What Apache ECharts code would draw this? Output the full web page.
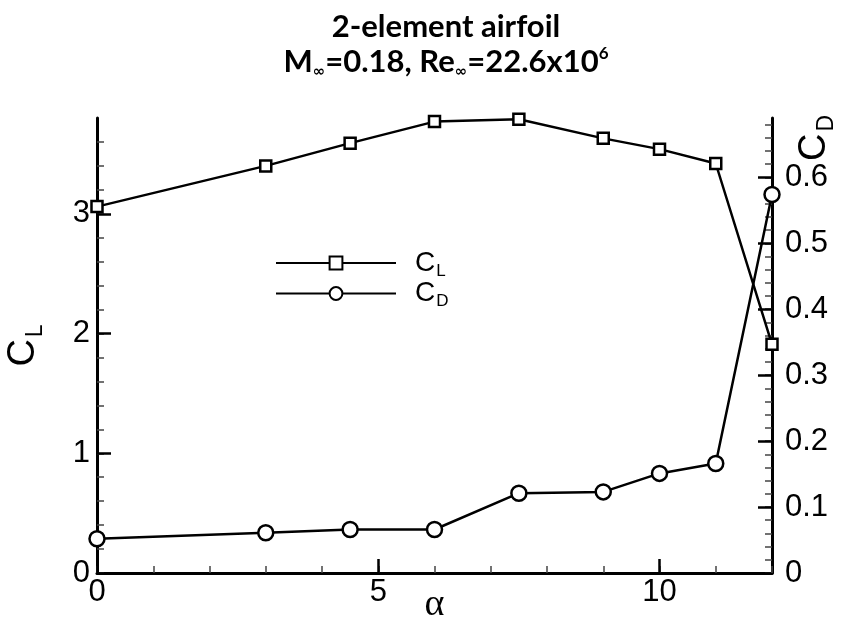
<!DOCTYPE html>
<html>
<head>
<meta charset="utf-8">
<title>2-element airfoil</title>
<script src="https://cdn.jsdelivr.net/npm/echarts@6/dist/echarts.min.js"></script>
<style>
  html, body { margin: 0; padding: 0; background: #fff; }
  #chart { width: 844px; height: 628px; }
</style>
</head>
<body>
<div id="chart"></div>
<script>
// angle of attack (deg)
const alpha = [0, 3, 4.5, 6, 7.5, 9, 10, 11, 12];
// lift and drag coefficients
const cl = [3.06, 3.40, 3.59, 3.77, 3.79, 3.63, 3.54, 3.42, 1.91];
const cd = [0.052, 0.061, 0.066, 0.066, 0.121, 0.123, 0.151, 0.166, 0.574];

// tick marks
const alphaTicks = [0, 5, 10];
const alphaMinor = [0, 1, 2, 3, 4, 5, 6, 7, 8, 9, 10, 11, 12];
const clTicks = [0, 1, 2, 3];
const clMinor = [0, 0.2, 0.4, 0.6, 0.8, 1, 1.2, 1.4, 1.6, 1.8, 2, 2.2, 2.4, 2.6, 2.8, 3, 3.2, 3.4, 3.6];
const cdTicks = [0, 0.1, 0.2, 0.3, 0.4, 0.5, 0.6];
const cdMinor = [0, 0.02, 0.04, 0.06, 0.08, 0.1, 0.12, 0.14, 0.16, 0.18, 0.2, 0.22, 0.24, 0.26, 0.28,
    0.3, 0.32, 0.34, 0.36, 0.38, 0.4, 0.42, 0.44, 0.46, 0.48, 0.5, 0.52, 0.54, 0.56, 0.58, 0.6, 0.62,
    0.64, 0.66, 0.68];

const chart = echarts.init(document.getElementById('chart'));

const labelFont = 'Liberation Sans';
const black = '#000';

// main axis (line + minor ticks + labels)
function mainAxis(extra) {
    return Object.assign({
        type: 'value',
        axisLine: { show: true, onZero: false, lineStyle: { color: black, width: 3 } },
        splitLine: { show: false }
    }, extra);
}

function minorTicks(values) {
    return { show: true, inside: true, length: 7, customValues: values, lineStyle: { color: '#444', width: 1.5 } };
}

// overlay axis that only draws the long major ticks
function majorTicks(extra, values) {
    return Object.assign({
        type: 'value',
        axisLine: { show: false, onZero: false },
        axisTick: { show: true, inside: true, length: 14, customValues: values, lineStyle: { color: black, width: 2.5 } },
        axisLabel: { show: false },
        splitLine: { show: false }
    }, extra);
}

const sub = { fontFamily: labelFont, fontSize: 23, color: black, padding: [24, 0, 0, 2] };

const option = {
    animation: false,
    backgroundColor: '#fff',
    title: {
        left: 446,
        top: 10,
        padding: 0,
        textAlign: 'center',
        text: '{t|2-element airfoil}\n{t|M}{s|∞}{t|=0.18, Re}{s|∞}{t|=22.6x10}{p|6}',
        textStyle: {
            rich: {
                t: { fontFamily: 'Lato', fontWeight: 'bold', fontSize: 31, color: black, lineHeight: 33 },
                s: { fontFamily: 'DejaVu Sans', fontSize: 15, color: black, padding: [22, 0, 0, 0] },
                p: { fontFamily: 'Lato', fontWeight: 'bold', fontSize: 17, color: black, padding: [0, 0, 16, 0] }
            }
        }
    },
    legend: {
        left: 275,
        top: 249,
        padding: 0,
        orient: 'vertical',
        itemWidth: 120,
        itemHeight: 16,
        itemGap: 0,
        data: ['CL', 'CD'],
        formatter: function (name) {
            return '{c|C}{s|' + name.slice(1) + '}';
        },
        textStyle: {
            rich: {
                c: { fontFamily: labelFont, fontSize: 28, color: black, padding: [0, 0, 0, 14] },
                s: { fontFamily: labelFont, fontSize: 17, color: black, padding: [16, 0, 0, 1] }
            }
        }
    },
    grid: { left: 97, right: 72, top: 118, bottom: 55, outerBoundsMode: 'none' },
    xAxis: [
        mainAxis({
            min: 0, max: 12, position: 'bottom',
            name: 'α', nameLocation: 'middle', nameGap: 13, nameMoveOverlap: false,
            nameTextStyle: { fontFamily: 'Liberation Serif', fontSize: 38, color: black },
            axisTick: minorTicks(alphaMinor),
            axisLabel: { color: black, fontFamily: labelFont, fontSize: 31, margin: 4, customValues: alphaTicks }
        }),
        majorTicks({ min: 0, max: 12, position: 'bottom' }, alphaTicks)
    ],
    yAxis: [
        mainAxis({
            min: 0, max: 3.8, position: 'left',
            name: '{c|C}{s|L}', nameLocation: 'middle', nameRotate: 90, nameGap: 50, nameMoveOverlap: false,
            nameTextStyle: {
                rich: {
                    c: { fontFamily: labelFont, fontSize: 38, color: black },
                    s: sub
                }
            },
            axisTick: minorTicks(clMinor),
            axisLabel: { color: black, fontFamily: labelFont, fontSize: 31, margin: 7, customValues: clTicks }
        }),
        mainAxis({
            min: 0, max: 0.69, position: 'right',
            axisTick: minorTicks(cdMinor),
            axisLabel: { color: black, fontFamily: labelFont, fontSize: 31, margin: 13, customValues: cdTicks }
        }),
        majorTicks({ min: 0, max: 3.8, position: 'left' }, clTicks),
        majorTicks({ min: 0, max: 0.69, position: 'right' }, cdTicks)
    ],
    graphic: [{
        type: 'text',
        x: 815,
        y: 138,
        rotation: Math.PI / 2,
        style: {
            text: '{c|C}{s|D}',
            align: 'center',
            verticalAlign: 'middle',
            rich: {
                c: { fontFamily: labelFont, fontSize: 38, color: black },
                s: sub
            }
        }
    }],
    series: [
        {
            name: 'CL',
            type: 'line',
            xAxisIndex: 0,
            yAxisIndex: 0,
            data: alpha.map((a, i) => [a, cl[i]]),
            symbol: 'rect',
            symbolSize: 11,
            lineStyle: { color: black, width: 2.5 },
            itemStyle: { color: '#fff', borderColor: black, borderWidth: 2.5 },
            emphasis: { disabled: true },
            z: 3
        },
        {
            name: 'CD',
            type: 'line',
            xAxisIndex: 0,
            yAxisIndex: 1,
            data: alpha.map((a, i) => [a, cd[i]]),
            symbol: 'circle',
            symbolSize: 15,
            lineStyle: { color: black, width: 2.5 },
            itemStyle: { color: '#fff', borderColor: black, borderWidth: 2.5 },
            emphasis: { disabled: true },
            z: 3
        }
    ]
};

chart.setOption(option);

window.addEventListener('resize', function () {
    chart.resize();
});
</script>
</body>
</html>
